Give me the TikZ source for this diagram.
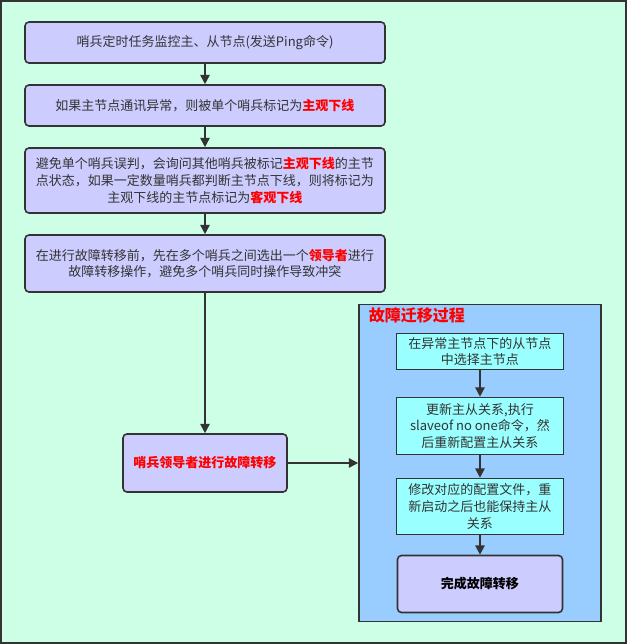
\documentclass[tikz,border=0pt]{standalone}
\usepackage{fontspec}
\setmainfont{Noto Sans CJK SC}
\usetikzlibrary{positioning,arrows.meta}
\definecolor{bgmint}{HTML}{CCFFE6}
\definecolor{boxlav}{HTML}{CCCCFF}
\definecolor{frameblue}{HTML}{99CCFF}
\definecolor{subcyan}{HTML}{99FFFF}
\definecolor{linegray}{HTML}{333333}
\newcommand{\hot}[1]{\textcolor{red}{\bfseries #1}}

\begin{document}
\begin{tikzpicture}[>={Triangle[length=7pt,width=7pt]},line width=1.2pt,node distance=15.3pt,
   font=\fontsize{9.75}{12.4}\selectfont,
   stage/.style={draw=linegray,fill=boxlav,rounded corners=3pt,text=linegray,align=center,
                 minimum width=270pt,inner sep=0pt},
   sub/.style={draw=linegray,fill=subcyan,text=linegray,align=center,
               minimum width=125.25pt,inner sep=0pt},
   done/.style={sub,fill=boxlav,rounded corners=3pt,minimum width=123.75pt,text=black,
                font=\fontsize{9.75}{12.4}\selectfont\bfseries}]
   \fill[bgmint] (-153.75pt,31.875pt) rectangle (316.5pt,-451.125pt);
   \useasboundingbox (-153.75pt,31.875pt) rectangle (316.5pt,-451.125pt);
   \draw[linegray] (-153pt,31.125pt) rectangle (315.75pt,-450.375pt);
   % sentinel steps
   \node[stage,minimum height=30.75pt] (s_1) at (0,0) {哨兵定时任务监控主、从节点(发送Ping命令)};
   \node[stage,minimum height=30.75pt] (s_2) [below=of s_1] {如果主节点通讯异常，则被单个哨兵标记为\hot{主观下线}};
   \node[stage,minimum height=48.75pt] (s_3) [below=of s_2]
      {避免单个哨兵误判，会询问其他哨兵被标记\hot{主观下线}的主节\\点状态，如果一定数量哨兵都判断主节点下线，则将标记为\\主观下线的主节点标记为\hot{客观下线}};
   \node[stage,minimum height=42.75pt] (s_4) [below=of s_3]
      {在进行故障转移前，先在多个哨兵之间选出一个\hot{领导者}进行\\故障转移操作，避免多个哨兵同时操作导致冲突};
   \node[stage,minimum width=123pt,minimum height=43.5pt] (s_5) [below=105.3pt of s_4] {\hot{哨兵领导者进行故障转移}};
   % failover process
   \node[draw=linegray,fill=frameblue,minimum width=181.5pt,minimum height=237.75pt] (fp) [right=52.8pt of s_5] {};
   \node[text=red,inner sep=0pt,font=\fontsize{12}{14}\selectfont\bfseries] (fp_t)
      [below right=2pt and 7.5pt of fp.north west] {故障迁移过程};
   \node[sub,minimum height=27pt] (f_1) [below=21.75pt of fp.north] {在异常主节点下的从节点\\中选择主节点};
   \node[sub,minimum height=42.75pt] (f_2) [below=19.8pt of f_1] {更新主从关系,执行\\slaveof no one命令，然\\后重新配置主从关系};
   \node[sub,minimum height=42pt] (f_3) [below=16.8pt of f_2] {修改对应的配置文件，重\\新启动之后也能保持主从\\关系};
   \node[done,minimum height=42.75pt] (f_4) [below=14.55pt of f_3] {完成故障转移};
   \path[->,linegray]
    (s_1) edge (s_2)
    (s_2) edge (s_3)
    (s_3) edge (s_4)
    (s_4) edge (s_5)
    (s_5) edge (fp)
    (f_1) edge (f_2)
    (f_2) edge (f_3)
    (f_3) edge (f_4);
\end{tikzpicture}
\end{document}
